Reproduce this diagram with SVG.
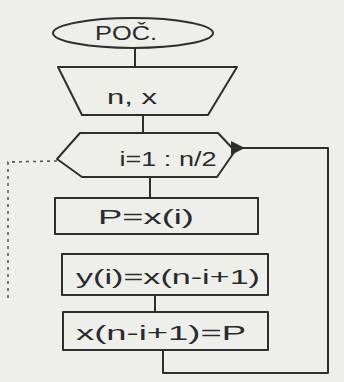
<svg xmlns="http://www.w3.org/2000/svg" width="344" height="382" viewBox="0 0 344 382">
<style>
.s{fill:none;stroke:#2e2e2e;stroke-width:2;stroke-linecap:round;stroke-linejoin:round}
.d{fill:none;stroke:#555;stroke-width:1.6;stroke-dasharray:3 4}
.t{font-family:"Liberation Sans",Arial,sans-serif;fill:#2a2a2a;text-anchor:middle;font-size:21px}
</style>
<defs>
<marker id="ah" viewBox="0 0 10 10" refX="2" refY="5" markerWidth="7" markerHeight="7" orient="auto-start-reverse">
<path d="M0,5 L10,0 L10,10 Z" fill="#2e2e2e"/>
</marker>
</defs>
<rect width="344" height="382" fill="#eeeeea"/>
<g id="start">
<ellipse class="s" cx="133" cy="33" rx="80" ry="15"/>
<text class="t" x="126" y="40" textLength="62" lengthAdjust="spacingAndGlyphs">POČ.</text>
</g>
<g id="input">
<polygon class="s" points="58,67 237,67 208,115 82,115"/>
<text class="t" x="132" y="104" font-size="22" textLength="50" lengthAdjust="spacingAndGlyphs">n, x</text>
</g>
<g id="loop">
<polygon class="s" points="80,133 218,133 235,151 217,177 82,177 57,159"/>
<text class="t" x="168" y="166" textLength="97" lengthAdjust="spacingAndGlyphs">i=1 : n/2</text>
</g>
<g id="box1">
<rect class="s" x="55" y="198" width="203" height="36"/>
<text class="t" x="146" y="224" textLength="96" lengthAdjust="spacingAndGlyphs">P=x(i)</text>
</g>
<g id="box2">
<rect class="s" x="62" y="254" width="206" height="41"/>
<text class="t" x="168" y="284" font-size="23" textLength="184" lengthAdjust="spacingAndGlyphs">y(i)=x(n-i+1)</text>
</g>
<g id="box3">
<rect class="s" x="63" y="312" width="205" height="38"/>
<text class="t" x="161" y="340" font-size="23" textLength="170" lengthAdjust="spacingAndGlyphs">x(n-i+1)=P</text>
</g>
<g id="connectors">
<line class="s" x1="135" y1="48" x2="135" y2="67"/>
<line class="s" x1="143" y1="115" x2="143" y2="133"/>
<line class="s" x1="150" y1="177" x2="150" y2="198"/>
<line class="s" x1="155" y1="295" x2="155" y2="312"/>
<polyline class="s" points="163,350 163,373 328,373 328,148 242,148" marker-end="url(#ah)"/>
<polyline class="d" points="57,161 8,162 8,300"/>
</g>
</svg>
